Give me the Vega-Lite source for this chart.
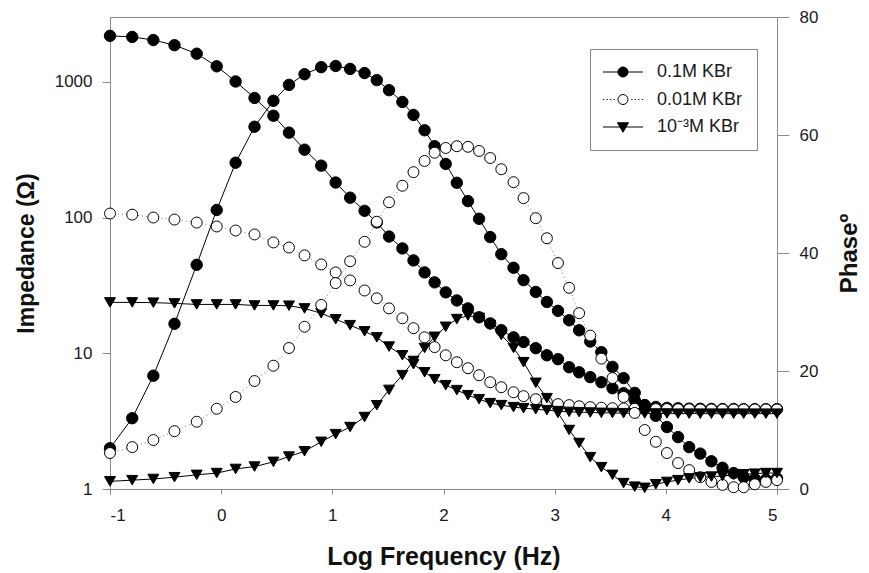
{
  "$schema": "https://vega.github.io/schema/vega-lite/v6.json",
  "width": 667,
  "height": 472,
  "autosize": {"type": "none"},
  "padding": {"left": 110, "top": 17, "right": 92, "bottom": 84},
  "background": "white",
  "config": {
    "font": "Liberation Sans",
    "view": {"stroke": "#8a8a8a", "strokeWidth": 1},
    "axis": {
      "grid": false,
      "domainColor": "#8a8a8a",
      "tickColor": "#8a8a8a",
      "labelColor": "#1a1a1a",
      "titleColor": "#111111",
      "labelFont": "Liberation Sans",
      "titleFont": "Liberation Sans",
      "labelFontSize": 17
    },
    "legend": {
      "orient": "none",
      "legendX": 480,
      "legendY": 32,
      "padding": 14,
      "strokeColor": "#8a8a8a",
      "fillColor": "#ffffff",
      "symbolSize": 100,
      "symbolOffset": 10,
      "symbolStrokeWidth": 1,
      "labelOffset": 25,
      "labelFontSize": 18,
      "labelColor": "#1a1a1a",
      "labelFont": "Liberation Sans",
      "rowPadding": 9.5
    }
  },
  "datasets": {
    "eis": [
      {"f": -1.00, "c": "0.1M KBr", "z": 2180, "p": 6.9},
      {"f": -0.80, "c": "0.1M KBr", "z": 2140, "p": 12.0},
      {"f": -0.61, "c": "0.1M KBr", "z": 2030, "p": 19.2},
      {"f": -0.42, "c": "0.1M KBr", "z": 1860, "p": 28.0},
      {"f": -0.22, "c": "0.1M KBr", "z": 1610, "p": 38.0},
      {"f": -0.04, "c": "0.1M KBr", "z": 1300, "p": 47.3},
      {"f": 0.13, "c": "0.1M KBr", "z": 1005, "p": 55.3},
      {"f": 0.30, "c": "0.1M KBr", "z": 760, "p": 61.4},
      {"f": 0.47, "c": "0.1M KBr", "z": 562, "p": 65.8},
      {"f": 0.61, "c": "0.1M KBr", "z": 422, "p": 68.5},
      {"f": 0.75, "c": "0.1M KBr", "z": 316, "p": 70.3},
      {"f": 0.90, "c": "0.1M KBr", "z": 241, "p": 71.5},
      {"f": 1.03, "c": "0.1M KBr", "z": 181, "p": 71.7},
      {"f": 1.16, "c": "0.1M KBr", "z": 140, "p": 71.2},
      {"f": 1.29, "c": "0.1M KBr", "z": 112, "p": 70.5},
      {"f": 1.40, "c": "0.1M KBr", "z": 92, "p": 69.3},
      {"f": 1.51, "c": "0.1M KBr", "z": 72.4, "p": 67.6},
      {"f": 1.63, "c": "0.1M KBr", "z": 59.2, "p": 65.6},
      {"f": 1.73, "c": "0.1M KBr", "z": 48.3, "p": 63.4},
      {"f": 1.83, "c": "0.1M KBr", "z": 39.4, "p": 60.8},
      {"f": 1.92, "c": "0.1M KBr", "z": 33.3, "p": 58.1},
      {"f": 2.02, "c": "0.1M KBr", "z": 28.1, "p": 55.1},
      {"f": 2.12, "c": "0.1M KBr", "z": 24.5, "p": 51.9},
      {"f": 2.22, "c": "0.1M KBr", "z": 21.4, "p": 48.8},
      {"f": 2.32, "c": "0.1M KBr", "z": 18.4, "p": 45.8},
      {"f": 2.42, "c": "0.1M KBr", "z": 16.6, "p": 42.7},
      {"f": 2.52, "c": "0.1M KBr", "z": 14.8, "p": 39.8},
      {"f": 2.63, "c": "0.1M KBr", "z": 13.1, "p": 37.5},
      {"f": 2.72, "c": "0.1M KBr", "z": 12.1, "p": 35.4},
      {"f": 2.83, "c": "0.1M KBr", "z": 10.9, "p": 33.4},
      {"f": 2.93, "c": "0.1M KBr", "z": 9.66, "p": 31.7},
      {"f": 3.03, "c": "0.1M KBr", "z": 9.04, "p": 30.2},
      {"f": 3.13, "c": "0.1M KBr", "z": 7.89, "p": 28.6},
      {"f": 3.22, "c": "0.1M KBr", "z": 7.24, "p": 26.9},
      {"f": 3.32, "c": "0.1M KBr", "z": 6.67, "p": 25.0},
      {"f": 3.42, "c": "0.1M KBr", "z": 6.12, "p": 23.2},
      {"f": 3.52, "c": "0.1M KBr", "z": 5.53, "p": 20.7},
      {"f": 3.62, "c": "0.1M KBr", "z": 5.08, "p": 18.8},
      {"f": 3.72, "c": "0.1M KBr", "z": 4.51, "p": 16.3},
      {"f": 3.81, "c": "0.1M KBr", "z": 4.15, "p": 14.2},
      {"f": 3.91, "c": "0.1M KBr", "z": 4.02, "p": 12.4},
      {"f": 4.01, "c": "0.1M KBr", "z": 3.96, "p": 10.5},
      {"f": 4.11, "c": "0.1M KBr", "z": 3.93, "p": 8.8},
      {"f": 4.21, "c": "0.1M KBr", "z": 3.91, "p": 7.1},
      {"f": 4.31, "c": "0.1M KBr", "z": 3.90, "p": 6.0},
      {"f": 4.41, "c": "0.1M KBr", "z": 3.89, "p": 4.7},
      {"f": 4.51, "c": "0.1M KBr", "z": 3.88, "p": 3.6},
      {"f": 4.61, "c": "0.1M KBr", "z": 3.88, "p": 2.7},
      {"f": 4.70, "c": "0.1M KBr", "z": 3.87, "p": 2.0},
      {"f": 4.80, "c": "0.1M KBr", "z": 3.87, "p": 1.7},
      {"f": 4.90, "c": "0.1M KBr", "z": 3.87, "p": 1.6},
      {"f": 5.00, "c": "0.1M KBr", "z": 3.87, "p": 1.8},

      {"f": -1.00, "c": "0.01M KBr", "z": 107, "p": 6.1},
      {"f": -0.80, "c": "0.01M KBr", "z": 105, "p": 7.1},
      {"f": -0.61, "c": "0.01M KBr", "z": 100, "p": 8.3},
      {"f": -0.42, "c": "0.01M KBr", "z": 96.6, "p": 9.8},
      {"f": -0.22, "c": "0.01M KBr", "z": 91.8, "p": 11.4},
      {"f": -0.04, "c": "0.01M KBr", "z": 85.9, "p": 13.6},
      {"f": 0.13, "c": "0.01M KBr", "z": 80.2, "p": 15.6},
      {"f": 0.30, "c": "0.01M KBr", "z": 75.0, "p": 18.3},
      {"f": 0.47, "c": "0.01M KBr", "z": 65.5, "p": 20.9},
      {"f": 0.61, "c": "0.01M KBr", "z": 60.1, "p": 23.9},
      {"f": 0.75, "c": "0.01M KBr", "z": 52.6, "p": 27.5},
      {"f": 0.90, "c": "0.01M KBr", "z": 45.1, "p": 31.2},
      {"f": 1.03, "c": "0.01M KBr", "z": 39.4, "p": 34.9},
      {"f": 1.16, "c": "0.01M KBr", "z": 34.4, "p": 38.6},
      {"f": 1.29, "c": "0.01M KBr", "z": 29.0, "p": 41.9},
      {"f": 1.40, "c": "0.01M KBr", "z": 25.4, "p": 45.3},
      {"f": 1.51, "c": "0.01M KBr", "z": 21.4, "p": 48.6},
      {"f": 1.63, "c": "0.01M KBr", "z": 18.1, "p": 51.4},
      {"f": 1.73, "c": "0.01M KBr", "z": 15.3, "p": 53.7},
      {"f": 1.83, "c": "0.01M KBr", "z": 13.1, "p": 55.6},
      {"f": 1.92, "c": "0.01M KBr", "z": 11.1, "p": 57.0},
      {"f": 2.02, "c": "0.01M KBr", "z": 9.66, "p": 57.8},
      {"f": 2.12, "c": "0.01M KBr", "z": 8.59, "p": 58.1},
      {"f": 2.22, "c": "0.01M KBr", "z": 7.76, "p": 58.0},
      {"f": 2.32, "c": "0.01M KBr", "z": 6.89, "p": 57.3},
      {"f": 2.42, "c": "0.01M KBr", "z": 6.12, "p": 56.1},
      {"f": 2.52, "c": "0.01M KBr", "z": 5.62, "p": 54.2},
      {"f": 2.63, "c": "0.01M KBr", "z": 5.16, "p": 52.0},
      {"f": 2.72, "c": "0.01M KBr", "z": 4.83, "p": 49.3},
      {"f": 2.83, "c": "0.01M KBr", "z": 4.59, "p": 45.9},
      {"f": 2.93, "c": "0.01M KBr", "z": 4.37, "p": 42.5},
      {"f": 3.03, "c": "0.01M KBr", "z": 4.22, "p": 38.3},
      {"f": 3.13, "c": "0.01M KBr", "z": 4.15, "p": 34.1},
      {"f": 3.22, "c": "0.01M KBr", "z": 4.07, "p": 29.8},
      {"f": 3.32, "c": "0.01M KBr", "z": 4.01, "p": 26.0},
      {"f": 3.42, "c": "0.01M KBr", "z": 3.97, "p": 22.1},
      {"f": 3.52, "c": "0.01M KBr", "z": 3.94, "p": 18.8},
      {"f": 3.62, "c": "0.01M KBr", "z": 3.92, "p": 15.6},
      {"f": 3.72, "c": "0.01M KBr", "z": 3.90, "p": 12.9},
      {"f": 3.81, "c": "0.01M KBr", "z": 3.89, "p": 10.0},
      {"f": 3.91, "c": "0.01M KBr", "z": 3.88, "p": 8.0},
      {"f": 4.01, "c": "0.01M KBr", "z": 3.88, "p": 6.1},
      {"f": 4.11, "c": "0.01M KBr", "z": 3.87, "p": 4.4},
      {"f": 4.21, "c": "0.01M KBr", "z": 3.87, "p": 3.2},
      {"f": 4.31, "c": "0.01M KBr", "z": 3.86, "p": 2.0},
      {"f": 4.41, "c": "0.01M KBr", "z": 3.86, "p": 1.2},
      {"f": 4.51, "c": "0.01M KBr", "z": 3.86, "p": 0.7},
      {"f": 4.61, "c": "0.01M KBr", "z": 3.86, "p": 0.3},
      {"f": 4.70, "c": "0.01M KBr", "z": 3.86, "p": 0.3},
      {"f": 4.80, "c": "0.01M KBr", "z": 3.86, "p": 0.8},
      {"f": 4.90, "c": "0.01M KBr", "z": 3.86, "p": 1.2},
      {"f": 5.00, "c": "0.01M KBr", "z": 3.86, "p": 1.5},

      {"f": -1.00, "c": "10⁻³M KBr", "z": 23.7, "p": 1.3},
      {"f": -0.80, "c": "10⁻³M KBr", "z": 23.7, "p": 1.5},
      {"f": -0.61, "c": "10⁻³M KBr", "z": 23.6, "p": 1.7},
      {"f": -0.42, "c": "10⁻³M KBr", "z": 23.3, "p": 2.0},
      {"f": -0.22, "c": "10⁻³M KBr", "z": 22.9, "p": 2.4},
      {"f": -0.04, "c": "10⁻³M KBr", "z": 22.9, "p": 2.7},
      {"f": 0.13, "c": "10⁻³M KBr", "z": 22.9, "p": 3.4},
      {"f": 0.30, "c": "10⁻³M KBr", "z": 22.5, "p": 3.8},
      {"f": 0.47, "c": "10⁻³M KBr", "z": 22.5, "p": 4.6},
      {"f": 0.61, "c": "10⁻³M KBr", "z": 22.4, "p": 5.5},
      {"f": 0.75, "c": "10⁻³M KBr", "z": 21.4, "p": 6.4},
      {"f": 0.90, "c": "10⁻³M KBr", "z": 19.7, "p": 8.0},
      {"f": 1.03, "c": "10⁻³M KBr", "z": 17.8, "p": 9.3},
      {"f": 1.16, "c": "10⁻³M KBr", "z": 16.1, "p": 10.5},
      {"f": 1.29, "c": "10⁻³M KBr", "z": 14.5, "p": 12.2},
      {"f": 1.40, "c": "10⁻³M KBr", "z": 13.1, "p": 14.2},
      {"f": 1.51, "c": "10⁻³M KBr", "z": 11.2, "p": 16.8},
      {"f": 1.63, "c": "10⁻³M KBr", "z": 9.66, "p": 19.3},
      {"f": 1.73, "c": "10⁻³M KBr", "z": 8.30, "p": 21.7},
      {"f": 1.83, "c": "10⁻³M KBr", "z": 7.24, "p": 23.9},
      {"f": 1.92, "c": "10⁻³M KBr", "z": 6.44, "p": 25.8},
      {"f": 2.02, "c": "10⁻³M KBr", "z": 5.82, "p": 27.5},
      {"f": 2.12, "c": "10⁻³M KBr", "z": 5.35, "p": 28.8},
      {"f": 2.22, "c": "10⁻³M KBr", "z": 4.91, "p": 29.4},
      {"f": 2.32, "c": "10⁻³M KBr", "z": 4.59, "p": 29.0},
      {"f": 2.42, "c": "10⁻³M KBr", "z": 4.29, "p": 27.8},
      {"f": 2.52, "c": "10⁻³M KBr", "z": 4.15, "p": 26.1},
      {"f": 2.63, "c": "10⁻³M KBr", "z": 4.01, "p": 23.9},
      {"f": 2.72, "c": "10⁻³M KBr", "z": 3.94, "p": 21.5},
      {"f": 2.83, "c": "10⁻³M KBr", "z": 3.87, "p": 18.0},
      {"f": 2.93, "c": "10⁻³M KBr", "z": 3.81, "p": 15.4},
      {"f": 3.03, "c": "10⁻³M KBr", "z": 3.75, "p": 12.9},
      {"f": 3.13, "c": "10⁻³M KBr", "z": 3.70, "p": 10.0},
      {"f": 3.22, "c": "10⁻³M KBr", "z": 3.68, "p": 7.8},
      {"f": 3.32, "c": "10⁻³M KBr", "z": 3.66, "p": 5.4},
      {"f": 3.42, "c": "10⁻³M KBr", "z": 3.64, "p": 3.7},
      {"f": 3.52, "c": "10⁻³M KBr", "z": 3.63, "p": 2.4},
      {"f": 3.62, "c": "10⁻³M KBr", "z": 3.62, "p": 1.0},
      {"f": 3.72, "c": "10⁻³M KBr", "z": 3.61, "p": 0.4},
      {"f": 3.81, "c": "10⁻³M KBr", "z": 3.60, "p": 0.2},
      {"f": 3.91, "c": "10⁻³M KBr", "z": 3.60, "p": 0.8},
      {"f": 4.01, "c": "10⁻³M KBr", "z": 3.60, "p": 1.2},
      {"f": 4.11, "c": "10⁻³M KBr", "z": 3.59, "p": 1.5},
      {"f": 4.21, "c": "10⁻³M KBr", "z": 3.59, "p": 1.8},
      {"f": 4.31, "c": "10⁻³M KBr", "z": 3.59, "p": 2.0},
      {"f": 4.41, "c": "10⁻³M KBr", "z": 3.59, "p": 2.1},
      {"f": 4.51, "c": "10⁻³M KBr", "z": 3.59, "p": 2.2},
      {"f": 4.61, "c": "10⁻³M KBr", "z": 3.59, "p": 2.4},
      {"f": 4.70, "c": "10⁻³M KBr", "z": 3.59, "p": 2.5},
      {"f": 4.80, "c": "10⁻³M KBr", "z": 3.59, "p": 2.6},
      {"f": 4.90, "c": "10⁻³M KBr", "z": 3.59, "p": 2.7},
      {"f": 5.00, "c": "10⁻³M KBr", "z": 3.59, "p": 2.7}
    ],
    "keys": [
      {"c": "0.1M KBr"},
      {"c": "0.01M KBr"},
      {"c": "10⁻³M KBr"}
    ]
  },
  "layer": [
    {
      "data": {"name": "eis"},
      "encoding": {
        "x": {
          "field": "f",
          "type": "quantitative",
          "scale": {"domain": [-1, 5], "nice": false, "zero": false},
          "axis": {
            "values": [-1, 0, 1, 2, 3, 4, 5],
            "labelExpr": "'' + datum.value",
            "tickSize": 5,
            "labelPadding": 13,
            "title": "Log Frequency (Hz)",
            "titleFontSize": 25,
            "titleFontWeight": "bold",
            "titlePadding": 21
          }
        },
        "y": {
          "field": "z",
          "type": "quantitative",
          "scale": {"type": "log", "domain": [1, 3000], "nice": false},
          "axis": {
            "orient": "left",
            "values": [1, 10, 100, 1000],
            "labelExpr": "'' + datum.value",
            "tickSize": 8,
            "labelPadding": 10,
            "title": "Impedance (Ω)",
            "titleFontSize": 23,
            "titleFontWeight": "bold",
            "titlePadding": 16
          }
        }
      },
      "layer": [
        {
          "transform": [{"filter": "datum.c !== '0.01M KBr'"}],
          "mark": {"type": "line", "stroke": "#000000", "strokeWidth": 1},
          "encoding": {"detail": {"field": "c", "type": "nominal"}}
        },
        {
          "transform": [{"filter": "datum.c === '0.01M KBr'"}],
          "mark": {"type": "line", "stroke": "#777777", "strokeWidth": 1, "strokeDash": [1, 3]}
        },
        {
          "transform": [{"filter": "datum.c === '0.1M KBr'"}],
          "mark": {"type": "point", "shape": "circle", "filled": true, "fill": "#000000", "stroke": "#000000", "strokeWidth": 1, "size": 130, "opacity": 1}
        },
        {
          "transform": [{"filter": "datum.c === '0.01M KBr'"}],
          "mark": {"type": "point", "shape": "circle", "filled": false, "fill": "#ffffff", "stroke": "#000000", "strokeWidth": 1, "size": 120, "opacity": 1}
        },
        {
          "transform": [{"filter": "datum.c === '10⁻³M KBr'"}],
          "mark": {"type": "point", "shape": "triangle-down", "filled": true, "fill": "#000000", "stroke": "#000000", "strokeWidth": 1, "size": 120, "opacity": 1}
        }
      ]
    },
    {
      "data": {"name": "eis"},
      "encoding": {
        "x": {
          "field": "f",
          "type": "quantitative",
          "scale": {"domain": [-1, 5], "nice": false, "zero": false},
          "axis": {
            "values": [-1, 0, 1, 2, 3, 4, 5],
            "labelExpr": "'' + datum.value",
            "tickSize": 5,
            "labelPadding": 13,
            "title": "Log Frequency (Hz)",
            "titleFontSize": 25,
            "titleFontWeight": "bold",
            "titlePadding": 21
          }
        },
        "y": {
          "field": "p",
          "type": "quantitative",
          "scale": {"domain": [0, 80], "nice": false},
          "axis": {
            "orient": "right",
            "values": [0, 20, 40, 60, 80],
            "tickSize": 12,
            "labelPadding": 10,
            "title": "Phaseº",
            "titleFontSize": 24,
            "titleFontWeight": "bold",
            "titleAngle": 270,
            "titleBaseline": "top",
            "titlePadding": 20
          }
        }
      },
      "layer": [
        {
          "transform": [{"filter": "datum.c !== '0.01M KBr'"}],
          "mark": {"type": "line", "stroke": "#000000", "strokeWidth": 1},
          "encoding": {"detail": {"field": "c", "type": "nominal"}}
        },
        {
          "transform": [{"filter": "datum.c === '0.01M KBr'"}],
          "mark": {"type": "line", "stroke": "#777777", "strokeWidth": 1, "strokeDash": [1, 3]}
        },
        {
          "transform": [{"filter": "datum.c === '0.1M KBr'"}],
          "mark": {"type": "point", "shape": "circle", "filled": true, "fill": "#000000", "stroke": "#000000", "strokeWidth": 1, "size": 130, "opacity": 1}
        },
        {
          "transform": [{"filter": "datum.c === '0.01M KBr'"}],
          "mark": {"type": "point", "shape": "circle", "filled": false, "fill": "#ffffff", "stroke": "#000000", "strokeWidth": 1, "size": 120, "opacity": 1}
        },
        {
          "transform": [{"filter": "datum.c === '10⁻³M KBr'"}],
          "mark": {"type": "point", "shape": "triangle-down", "filled": true, "fill": "#000000", "stroke": "#000000", "strokeWidth": 1, "size": 120, "opacity": 1}
        }
      ]
    },
    {
      "data": {"name": "keys"},
      "transform": [{"filter": "datum.c == null"}],
      "mark": {"type": "point", "filled": false, "strokeWidth": 1, "opacity": 1},
      "encoding": {
        "shape": {
          "field": "c",
          "type": "nominal",
          "scale": {
            "domain": ["0.1M KBr", "0.01M KBr", "10⁻³M KBr"],
            "range": [
              "M-4,0L4,0M1,0A1,1,0,1,1,-1,0A1,1,0,1,1,1,0Z",
              "M-4,0h0.25M-3.3,0h0.25M-2.6,0h0.25M-1.9,0h0.25M1.65,0h0.25M2.35,0h0.25M3.05,0h0.25M3.75,0h0.25M1,0A1,1,0,1,1,-1,0A1,1,0,1,1,1,0Z",
              "M-4,0L4,0M-1.1,-0.85L1.1,-0.85L0,1.05Z"
            ]
          },
          "legend": {"title": null}
        },
        "fill": {
          "field": "c",
          "type": "nominal",
          "scale": {
            "domain": ["0.1M KBr", "0.01M KBr", "10⁻³M KBr"],
            "range": ["#000000", "#ffffff", "#000000"]
          },
          "legend": {"title": null}
        },
        "stroke": {
          "field": "c",
          "type": "nominal",
          "scale": {
            "domain": ["0.1M KBr", "0.01M KBr", "10⁻³M KBr"],
            "range": ["#000000", "#000000", "#000000"]
          },
          "legend": {"title": null}
        }
      }
    }
  ],
  "resolve": {"scale": {"y": "independent"}}
}
